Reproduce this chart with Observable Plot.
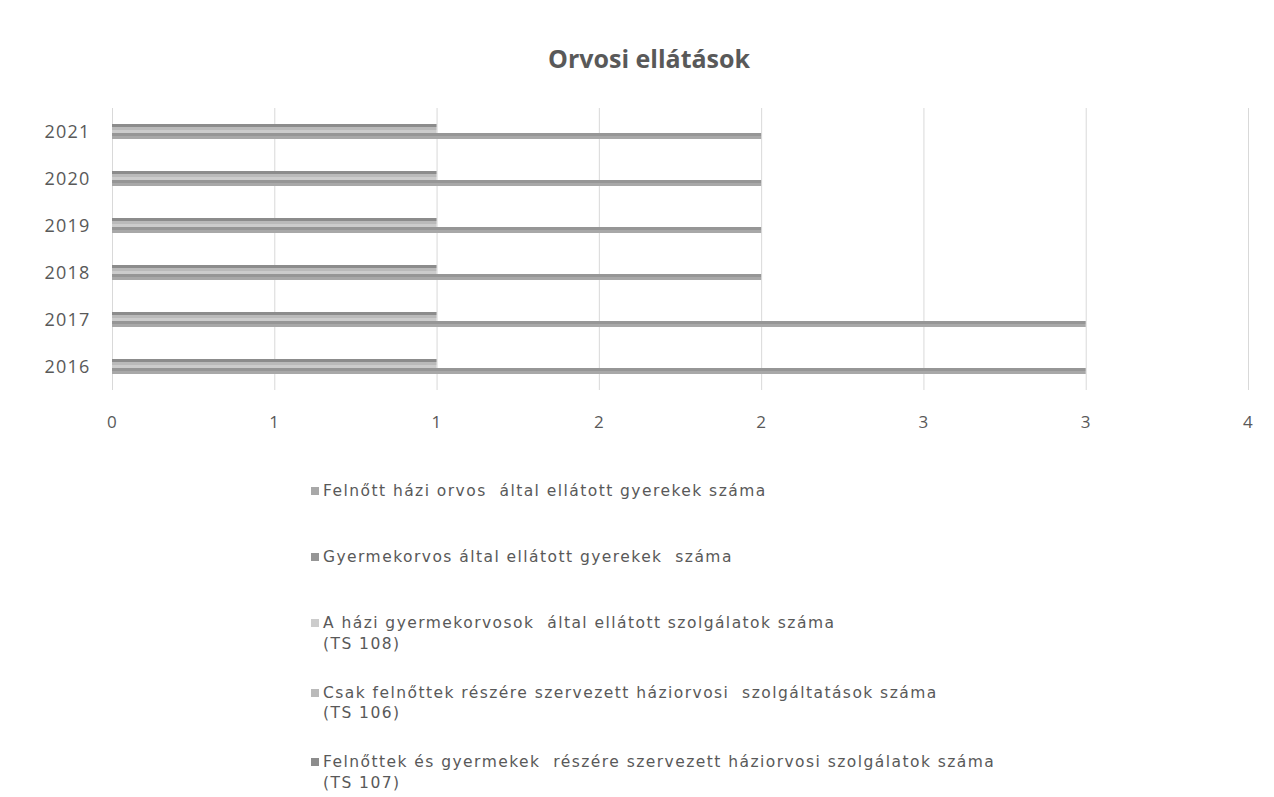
<!DOCTYPE html>
<html><head><meta charset="utf-8">
<script src="https://cdn.jsdelivr.net/npm/d3@7"></script>
<script src="https://cdn.jsdelivr.net/npm/@observablehq/plot@0.6"></script>
<style>
body{margin:0;background:#fff;width:1274px;height:797px;overflow:hidden;position:relative;font-family:"Open Sans",sans-serif;}
#title{position:absolute;top:41px;left:0;width:1298px;text-align:center;font-size:25px;font-weight:bold;color:#595959;}
#chart{position:absolute;top:100px;left:0;}
#legend{position:absolute;left:311px;top:481px;color:#595959;font-family:"DejaVu Sans",sans-serif;font-size:15.5px;letter-spacing:1.45px;line-height:20.5px;}
.item{position:relative;padding-left:12px;height:66px;}
.item.two{height:69.5px;}
.sw{position:absolute;left:0;top:6px;width:8px;height:8px;}
</style>
</head><body>
<div id="title">Orvosi ellátások</div>
<div id="chart"></div>
<div id="legend"></div>
<script>
const years = [2016, 2017, 2018, 2019, 2020, 2021];
const seriesNames = [
  "Felnőtt házi orvos által ellátott gyerekek száma",
  "Gyermekorvos által ellátott gyerekek száma",
  "A házi gyermekorvosok által ellátott szolgálatok száma (TS 108)",
  "Csak felnőttek részére szervezett háziorvosi szolgáltatások száma (TS 106)",
  "Felnőttek és gyermekek részére szervezett háziorvosi szolgálatok száma (TS 107)"
];
const legendLines = [
  ["Felnőtt házi orvos  által ellátott gyerekek száma"],
  ["Gyermekorvos által ellátott gyerekek  száma"],
  ["A házi gyermekorvosok  által ellátott szolgálatok száma", "(TS 108)"],
  ["Csak felnőttek részére szervezett háziorvosi  szolgáltatások száma", "(TS 106)"],
  ["Felnőttek és gyermekek  részére szervezett háziorvosi szolgálatok száma", "(TS 107)"]
];
const s1 = [3, 3, 2, 2, 2, 2];
const s2 = [3, 3, 2, 2, 2, 2];
const s3 = [1, 1, 1, 1, 1, 1];
const s4 = [1, 1, 1, 1, 1, 1];
const s5 = [1, 1, 1, 1, 1, 1];
const seriesValues = [s1, s2, s3, s4, s5];
const colors = ["#a8a8a8", "#969696", "#cccccc", "#bababa", "#8c8c8c"];
const xTicks = [0, 0.5, 1, 1.5, 2, 2.5, 3, 3.5];
const xTickLabels = ["0", "1", "1", "2", "2", "3", "3", "4"];

const data = years.flatMap((yr, i) => seriesNames.map((s, j) => ({year: yr, series: s, value: seriesValues[j][i]})));

const plot = Plot.plot({
  width: 1274, height: 340,
  marginLeft: 112, marginRight: 26, marginTop: 7, marginBottom: 50,
  style: {fontFamily: "'Open Sans', sans-serif", color: "#595959", background: "transparent", letterSpacing: "1.2px"},
  x: {domain: [0, 3.5], axis: null},
  y: {domain: seriesNames.slice().reverse(), axis: null, paddingInner: 0, paddingOuter: 4.6},
  fy: {domain: years.slice().reverse(), padding: 0, axis: null},
  color: {domain: seriesNames, range: colors},
  marks: [
    Plot.gridX(xTicks, {stroke: "#d9d9d9", strokeOpacity: 1}),
    Plot.barX(data, {x: "value", y: "series", fy: "year", fill: "series"}),
    Plot.axisFy({anchor: "left", tickSize: 0, tickPadding: 22, fontSize: 18, label: null, tickFormat: d => String(d)}),
    Plot.axisX({ticks: xTicks, tickFormat: d => xTickLabels[xTicks.indexOf(d)], tickSize: 0, tickPadding: 25, fontSize: 17, label: null})
  ]
});
document.getElementById("chart").appendChild(plot);

const legend = document.getElementById("legend");
legendLines.forEach((lines, j) => {
  const it = document.createElement("div");
  it.className = "item" + (lines.length > 1 ? " two" : "");
  const sw = document.createElement("div");
  sw.className = "sw";
  sw.style.background = colors[j];
  it.appendChild(sw);
  lines.forEach(l => {
    const t = document.createElement("div");
    t.textContent = l;
    t.style.whiteSpace = "pre";
    it.appendChild(t);
  });
  legend.appendChild(it);
});
</script>
</body></html>
